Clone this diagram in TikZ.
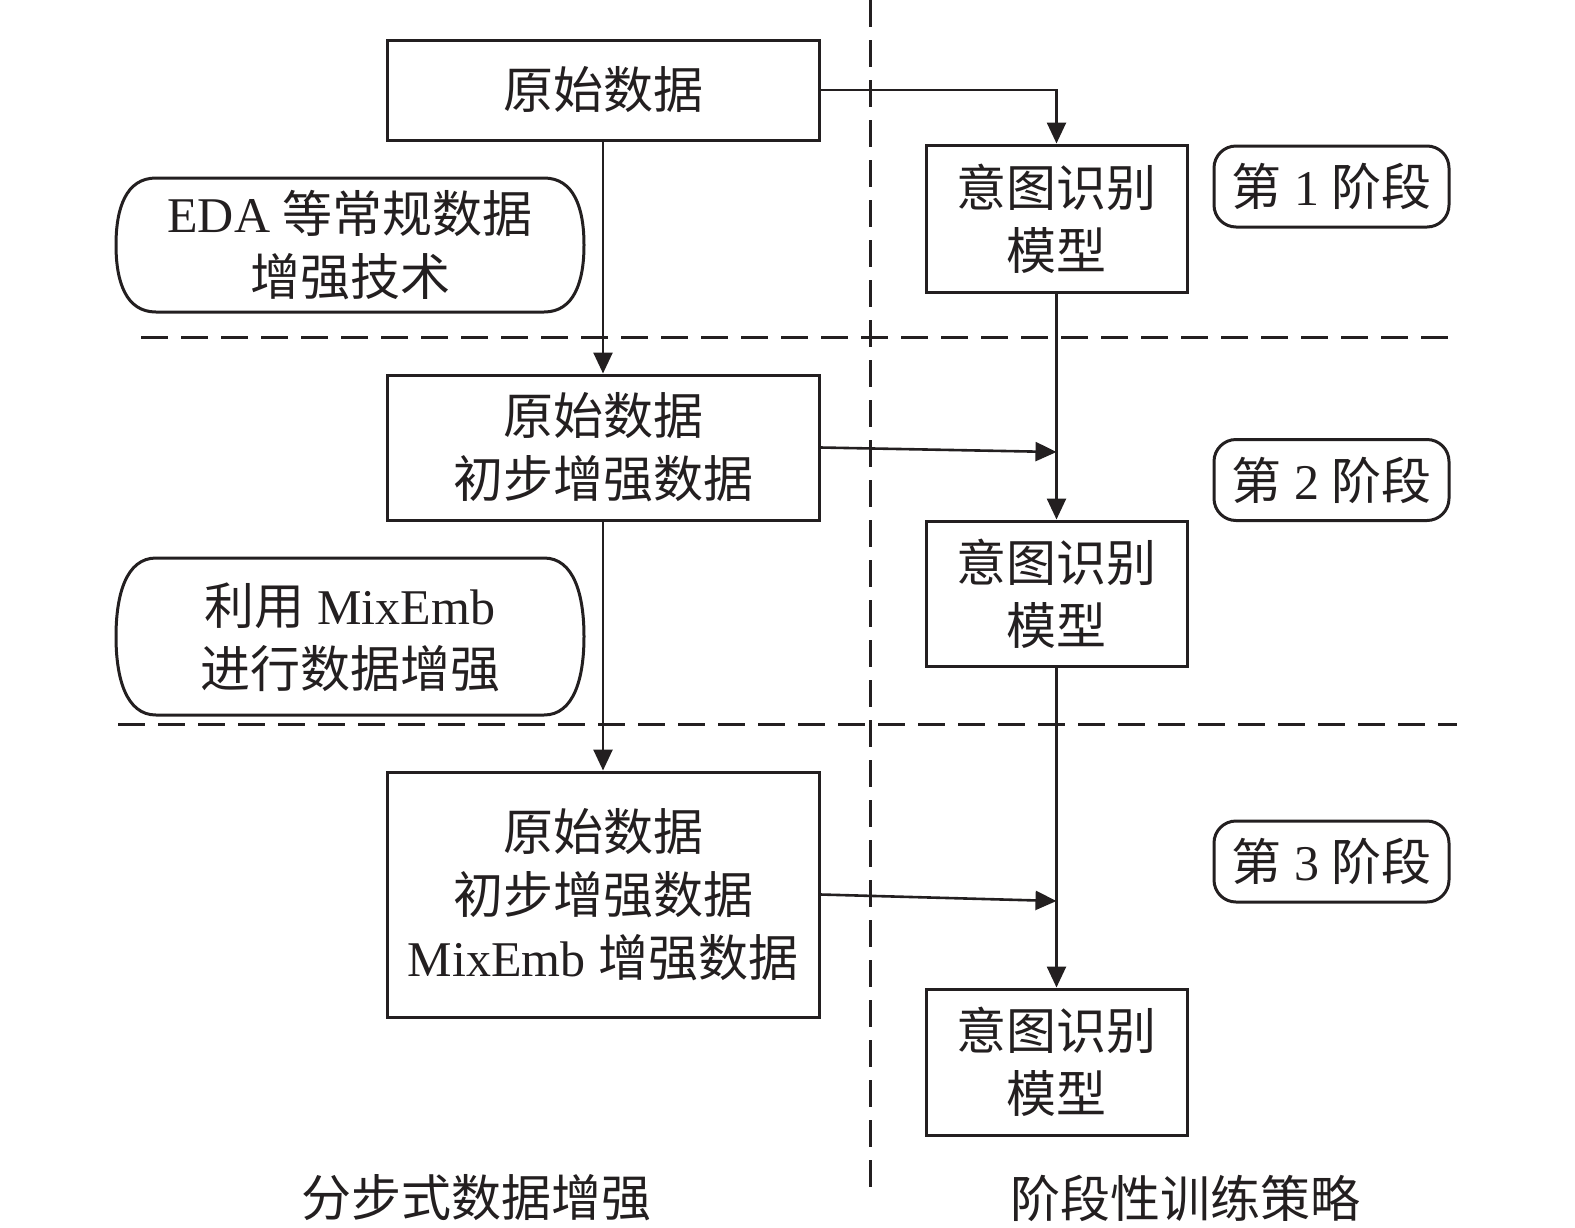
\documentclass[tikz,border=0pt]{standalone}
\usepackage{fontspec}
\setmainfont{Liberation Serif}
\newfontfamily\cjk{Noto Sans CJK SC}
\usetikzlibrary{arrows.meta,calc}
\definecolor{ink}{HTML}{231F20}
\newcommand{\zh}[1]{{\cjk #1}}
\tikzset{
  box/.style={draw=ink, line width=3pt, inner sep=0pt, align=center, text=ink,
    font=\fontsize{50}{63}\selectfont},
  stagebox/.style={draw=ink, line width=3pt, rounded corners=22pt, inner sep=0pt,
    minimum width=235pt, minimum height=81pt, text=ink, font=\fontsize{50}{63}\selectfont},
  plaintext/.style={inner sep=0pt, align=center, text=ink, font=\fontsize{50}{63}\selectfont},
  conn/.style={draw=ink, line width=2.6pt, -{Triangle[length=21pt,width=19pt]}},
  sepline/.style={draw=ink, line width=3pt, dash pattern=on 27pt off 13pt},
  pillline/.style={draw=ink, line width=3pt},
}
\begin{document}
\begin{tikzpicture}[x=1pt,y=-1pt]
\path[use as bounding box] (0,0) rectangle (1575,1227);

% separators
\draw[sepline] (870,0) -- (870,1195);
\draw[sepline] (141,337.5) -- (1461,337.5);
\draw[sepline] (118,724) -- (1457,724);

% left column boxes
\node[box, minimum width=432pt, minimum height=100pt] (b1) at (603,90) {\zh{原始数据}};
\node[box, minimum width=432pt, minimum height=145pt] (b2) at (603,447.5) {\zh{原始数据}\\\zh{初步增强数据}};
\node[box, minimum width=432pt, minimum height=245pt] (b3) at (603,894.5) {\zh{原始数据}\\\zh{初步增强数据}\\MixEmb \zh{增强数据}};

% right column boxes
\node[box, minimum width=261pt, minimum height=147pt] (r1) at (1056.5,218.5) {\zh{意图识别}\\\zh{模型}};
\node[box, minimum width=261pt, minimum height=145pt] (r2) at (1056.5,593.5) {\zh{意图识别}\\\zh{模型}};
\node[box, minimum width=261pt, minimum height=146pt] (r3) at (1056.5,1062) {\zh{意图识别}\\\zh{模型}};

% stage labels
\node[stagebox] (s1) at (1331.5,186.5) {\zh{第} 1 \zh{阶段}};
\node[stagebox] (s2) at (1331.5,480) {\zh{第} 2 \zh{阶段}};
\node[stagebox] (s3) at (1331.5,861.5) {\zh{第} 3 \zh{阶段}};

% pills
\draw[pillline] (156,178) -- (544,178) .. controls (574,178) and (584,208) .. (584,245)
  .. controls (584,282) and (574,312) .. (544,312) -- (156,312)
  .. controls (126,312) and (116,282) .. (116,245)
  .. controls (116,208) and (126,178) .. (156,178) -- cycle;
\node[plaintext] (p1) at (350,245) {EDA \zh{等常规数据}\\\zh{增强技术}};
\draw[pillline] (156,558) -- (544,558) .. controls (574,558) and (584,595) .. (584,636.5)
  .. controls (584,678) and (574,715) .. (544,715) -- (156,715)
  .. controls (126,715) and (116,678) .. (116,636.5)
  .. controls (116,595) and (126,558) .. (156,558) -- cycle;
\node[plaintext] (p2) at (350,637) {\zh{利用} MixEmb\\\zh{进行数据增强}};

% bottom labels
\node[plaintext] (l1) at (476,1198) {\zh{分步式数据增强}};
\node[plaintext] (l2) at (1185,1198) {\zh{阶段性训练策略}};

% connectors
\coordinate (m2) at (1056.5,452);
\coordinate (m3) at (1056.5,901);
\draw[conn] (b1.south) -- (b2.north);
\draw[conn] (b2.south) -- (b3.north);
\draw[conn] (r1.south) -- (r2.north);
\draw[conn] (r2.south) -- (r3.north);
\draw[conn] (b1.east) -| (r1.north);
\draw[conn] (b2.east) -- (m2);
\draw[conn] (b3.east) -- (m3);
\end{tikzpicture}
\end{document}
